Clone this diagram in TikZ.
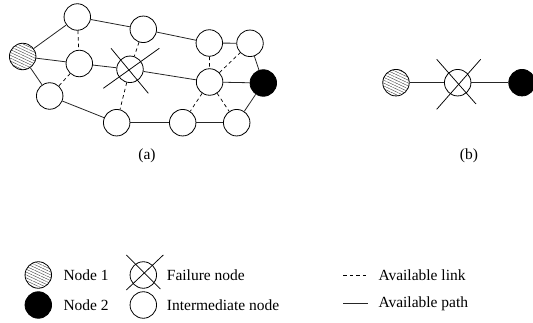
\documentclass[tikz,border=0pt]{standalone}
\usepackage{fontspec}
\setmainfont{Liberation Serif}
\usetikzlibrary{patterns.meta}
\begin{document}
\begin{tikzpicture}[x=1pt,y=-1pt,
  nd/.style={circle,draw,line width=0.8pt,minimum size=26.5pt,inner sep=0pt},
  hatched/.style={nd,pattern={Lines[angle=-25,distance=2.6pt,line width=0.4pt]},pattern color=black!75},
  solidnode/.style={nd,fill=black},
  link/.style={line width=0.7pt,dash pattern=on 3.5pt off 3pt},
  route/.style={line width=0.8pt,draw=black!85},
  crossline/.style={line width=0.75pt},
  lbl/.style={font=\fontsize{15.5}{18}\selectfont,inner sep=0pt}]
\useasboundingbox (0,0) rectangle (533,323);
% network (a)
\node[hatched] (n1) at (22.7,56.5) {};
\node[nd] (A) at (77.3,17) {};
\node[nd] (B) at (79.3,63.5) {};
\node[nd] (C) at (49.7,96) {};
\node[nd] (D) at (143.3,29.3) {};
\node[nd] (F) at (130,69.3) {};
\node[nd] (E) at (116.7,122.7) {};
\node[nd] (G) at (209.3,43) {};
\node[nd] (H) at (250,43.3) {};
\node[nd] (I) at (209.6,82) {};
\node[solidnode] (n2) at (263.3,83) {};
\node[nd] (J) at (182.7,122.7) {};
\node[nd] (K) at (236.7,122.7) {};
\draw[route] (n1) -- (A);
\draw[route] (n1) -- (B);
\draw[route] (n1) -- (C);
\draw[route] (A) -- (D);
\draw[route] (D) -- (G);
\draw[route] (G) -- (H);
\draw[route] (H) -- (n2);
\draw[route] (B) -- (F);
\draw[route] (F) -- (I);
\draw[route] (I) -- (n2);
\draw[route] (C) -- (E);
\draw[route] (E) -- (J);
\draw[route] (J) -- (K);
\draw[route] (K) -- (n2);
\draw[link] (A) -- (B);
\draw[link] (B) -- (C);
\draw[link] (D) -- (F);
\draw[link] (F) -- (E);
\draw[link] (G) -- (I);
\draw[link] (I) -- (H);
\draw[link] (I) -- (J);
\draw[link] (I) -- (K);
\draw[crossline] ([shift={(-19,-21)}]F.center) -- ([shift={(18.3,24)}]F.center);
\draw[crossline] ([shift={(-26.7,19)}]F.center) -- ([shift={(29.3,-21)}]F.center);
\node[lbl] (la) at (147,156) {(a)};
% network (b)
\node[hatched] (b1) at (396,82.7) {};
\node[nd] (bf) at (457.7,82.7) {};
\node[solidnode] (b2) at (522,82.7) {};
\draw[route] (b1) -- (bf);
\draw[route] (bf) -- (b2);
\draw[crossline] ([shift={(-21,-23.4)}]bf.center) -- ([shift={(18.3,21.3)}]bf.center);
\draw[crossline] ([shift={(-21,26.6)}]bf.center) -- ([shift={(23,-23.4)}]bf.center);
\node[lbl] (lb) at (469,156) {(b)};
% legend
\node[hatched] (l1) at (38.3,275) {};
\node[lbl,anchor=west] (t1) at (63.3,275) {Node 1};
\node[solidnode] (l2) at (38.3,305) {};
\node[lbl,anchor=west] (t2) at (63.3,305) {Node 2};
\node[nd] (l3) at (143.3,275) {};
\draw[crossline] ([shift={(-17,-20)}]l3.center) -- ([shift={(17,14)}]l3.center);
\draw[crossline] ([shift={(-17,15)}]l3.center) -- ([shift={(20,-20)}]l3.center);
\node[lbl,anchor=west] (t3) at (166.7,275) {Failure node};
\node[nd] (l4) at (143.3,305) {};
\node[lbl,anchor=west] (t4) at (166.7,305) {Intermediate node};
\coordinate (d1) at (343.3,275);
\coordinate (d2) at (368.3,275);
\draw[link] (d1) -- (d2);
\node[lbl,anchor=west] (t5) at (378.3,275) {Available link};
\coordinate (s1) at (343.3,303.3);
\coordinate (s2) at (368.3,303.3);
\draw[route] (s1) -- (s2);
\node[lbl,anchor=west] (t6) at (378.3,303.3) {Available path};
\end{tikzpicture}
\end{document}
